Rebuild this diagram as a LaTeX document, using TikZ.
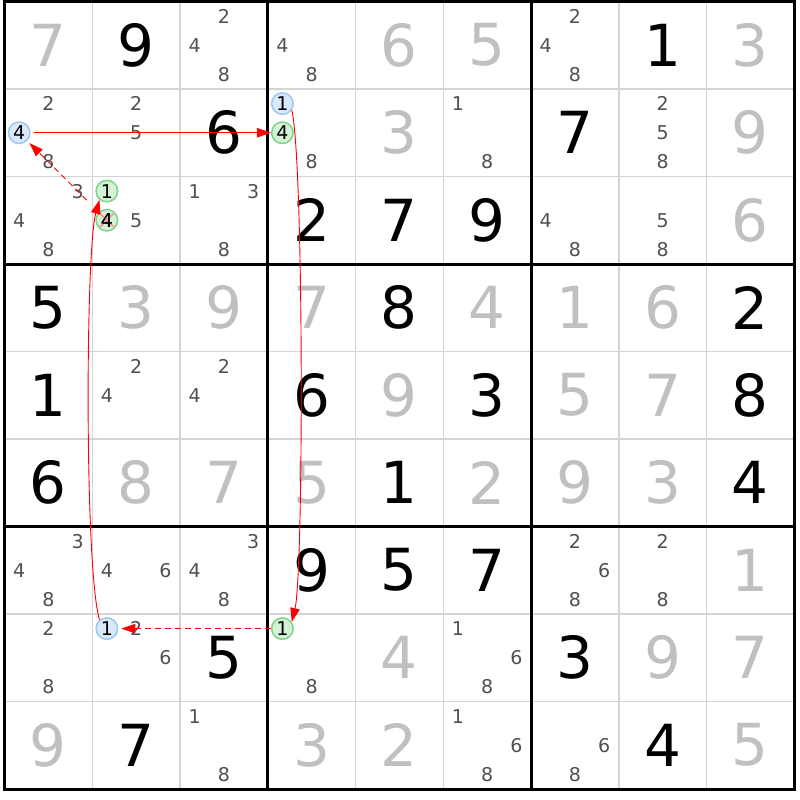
\documentclass[tikz,border=0pt]{standalone}
\usepackage{fontspec}
\setmainfont{DejaVu Sans}
\usetikzlibrary{arrows.meta}
\definecolor{givc}{HTML}{C0C0C0}
\definecolor{candc}{HTML}{505050}
\definecolor{thinc}{HTML}{D4D4D4}
\definecolor{bluefill}{HTML}{D9E9FB}
\definecolor{bluedraw}{HTML}{9CC8F2}
\definecolor{greenfill}{HTML}{D4F2D6}
\definecolor{greendraw}{HTML}{7ED48A}
\definecolor{chainred}{HTML}{FF0000}
\definecolor{xred}{HTML}{F29A9A}
\tikzset{
  givend/.style={text=givc, font=\fontsize{58}{58}\selectfont, inner sep=0pt},
  solvedd/.style={text=black, font=\fontsize{58}{58}\selectfont, inner sep=0pt},
  candd/.style={text=candc, font=\fontsize{19}{19}\selectfont, inner sep=0pt},
  circbase/.style={circle, line width=1.5pt, minimum size=21.5pt, inner sep=0pt, font=\fontsize{19}{19}\selectfont, text=black},
  bluecirc/.style={circbase, draw=bluedraw, fill=bluefill},
  greencirc/.style={circbase, draw=greendraw, fill=greenfill},
  circtext/.style={inner sep=0pt, font=\fontsize{19}{19}\selectfont, text=black},
  linkarrow/.style={draw=chainred, line width=0.9pt, -{Triangle[length=14pt,width=9.5pt]}},
  weaklink/.style={linkarrow, dash pattern=on 6pt off 4pt},
  xmark/.style={draw=xred, line width=1.6pt},
  gridthin/.style={draw=thinc, line width=1.5pt},
  gridthick/.style={draw=black, line width=3pt, line cap=rect},
}
\newcommand\GivenD[3]{\node[givend] (v-#1-#2) at ({4.5+87.75*(#2-0.5)},{1.5+87.5*(#1-0.5)}) {#3};}
\newcommand\SolvedD[3]{\node[solvedd] (v-#1-#2) at ({4.5+87.75*(#2-0.5)},{1.5+87.5*(#1-0.5)}) {#3};}
\newcommand\Cands[3]{\foreach \d in {#3}{\node[candd] (k-#1-#2-\d) at ({4.5+87.75*(#2-1)+14.625+29.25*mod(\d-1,3)},{1.5+87.5*(#1-1)+14.583+29.167*floor((\d-1)/3)}) {\d};}}
\newcommand\CircC[5]{\node[#1] (#2) at ({4.5+87.75*(#4-1)+14.625+29.25*mod(#5-1,3)},{1.5+87.5*(#3-1)+14.583+29.167*floor((#5-1)/3)}) {#5};}
\begin{document}
\begin{tikzpicture}[x=1pt,y=-1pt]
\useasboundingbox[fill=white] (0,0) rectangle (800,800);
% grid
\foreach \i in {1,2,4,5,7,8}{
  \draw[gridthin] ({4.5+87.75*\i},1.5) -- ({4.5+87.75*\i},789);
  \draw[gridthin] (4.5,{1.5+87.5*\i}) -- (794.25,{1.5+87.5*\i});
}
\foreach \i in {3,6}{
  \draw[gridthick] ({4.5+87.75*\i},1.5) -- ({4.5+87.75*\i},789);
  \draw[gridthick] (4.5,{1.5+87.5*\i}) -- (794.25,{1.5+87.5*\i});
}
\draw[gridthick] (4.5,1.5) rectangle (794.25,789);
% row 1
\GivenD{1}{1}{7}\SolvedD{1}{2}{9}\Cands{1}{3}{2,4,8}\Cands{1}{4}{4,8}
\GivenD{1}{5}{6}\GivenD{1}{6}{5}\Cands{1}{7}{2,4,8}\SolvedD{1}{8}{1}\GivenD{1}{9}{3}
% row 2
\Cands{2}{1}{2,8}\CircC{bluecirc}{b21}{2}{1}{4}
\Cands{2}{2}{2,5}\SolvedD{2}{3}{6}
\CircC{bluecirc}{b24}{2}{4}{1}\CircC{greencirc}{g24}{2}{4}{4}\Cands{2}{4}{8}
\GivenD{2}{5}{3}\Cands{2}{6}{1,8}\SolvedD{2}{7}{7}\Cands{2}{8}{2,5,8}\GivenD{2}{9}{9}
% row 3
\Cands{3}{1}{3,4,8}
\CircC{greencirc}{g32}{3}{2}{1}\CircC{greencirc}{x32}{3}{2}{4}\Cands{3}{2}{5}
\draw[xmark] ([shift={(-6.5,-6.5)}]x32.center) -- ([shift={(6.5,6.5)}]x32.center);
\draw[xmark] ([shift={(-6.5,6.5)}]x32.center) -- ([shift={(6.5,-6.5)}]x32.center);
\node[circtext] (x32t) at (x32.center) {4};
\Cands{3}{3}{1,3,8}\SolvedD{3}{4}{2}\SolvedD{3}{5}{7}\SolvedD{3}{6}{9}
\Cands{3}{7}{4,8}\Cands{3}{8}{5,8}\GivenD{3}{9}{6}
% row 4
\SolvedD{4}{1}{5}\GivenD{4}{2}{3}\GivenD{4}{3}{9}\GivenD{4}{4}{7}\SolvedD{4}{5}{8}
\GivenD{4}{6}{4}\GivenD{4}{7}{1}\GivenD{4}{8}{6}\SolvedD{4}{9}{2}
% row 5
\SolvedD{5}{1}{1}\Cands{5}{2}{2,4}\Cands{5}{3}{2,4}\SolvedD{5}{4}{6}\GivenD{5}{5}{9}
\SolvedD{5}{6}{3}\GivenD{5}{7}{5}\GivenD{5}{8}{7}\SolvedD{5}{9}{8}
% row 6
\SolvedD{6}{1}{6}\GivenD{6}{2}{8}\GivenD{6}{3}{7}\GivenD{6}{4}{5}\SolvedD{6}{5}{1}
\GivenD{6}{6}{2}\GivenD{6}{7}{9}\GivenD{6}{8}{3}\SolvedD{6}{9}{4}
% row 7
\Cands{7}{1}{3,4,8}\Cands{7}{2}{4,6}\Cands{7}{3}{3,4,8}\SolvedD{7}{4}{9}\SolvedD{7}{5}{5}
\SolvedD{7}{6}{7}\Cands{7}{7}{2,6,8}\Cands{7}{8}{2,8}\GivenD{7}{9}{1}
% row 8
\Cands{8}{1}{2,8}\CircC{bluecirc}{b82}{8}{2}{1}\Cands{8}{2}{2,6}\SolvedD{8}{3}{5}
\CircC{greencirc}{g84}{8}{4}{1}\Cands{8}{4}{8}\GivenD{8}{5}{4}\Cands{8}{6}{1,6,8}
\SolvedD{8}{7}{3}\GivenD{8}{8}{9}\GivenD{8}{9}{7}
% row 9
\GivenD{9}{1}{9}\SolvedD{9}{2}{7}\Cands{9}{3}{1,8}\GivenD{9}{4}{3}\GivenD{9}{5}{2}
\Cands{9}{6}{1,6,8}\Cands{9}{7}{6,8}\SolvedD{9}{8}{4}\GivenD{9}{9}{5}
% chain
\draw[linkarrow, shorten <=3pt] (b21) -- (g24);
\draw[linkarrow] (b24.-35) .. controls +(12,50) and +(12,-50) .. (g84.35);
\draw[weaklink, shorten >=3pt] (g84) -- (b82);
\draw[linkarrow] (b82.130) .. controls +(-15,-50) and +(-14,50) .. (g32.230);
\draw[weaklink, shorten <=17pt, shorten >=3pt] (x32) -- (b21);
\end{tikzpicture}
\end{document}
